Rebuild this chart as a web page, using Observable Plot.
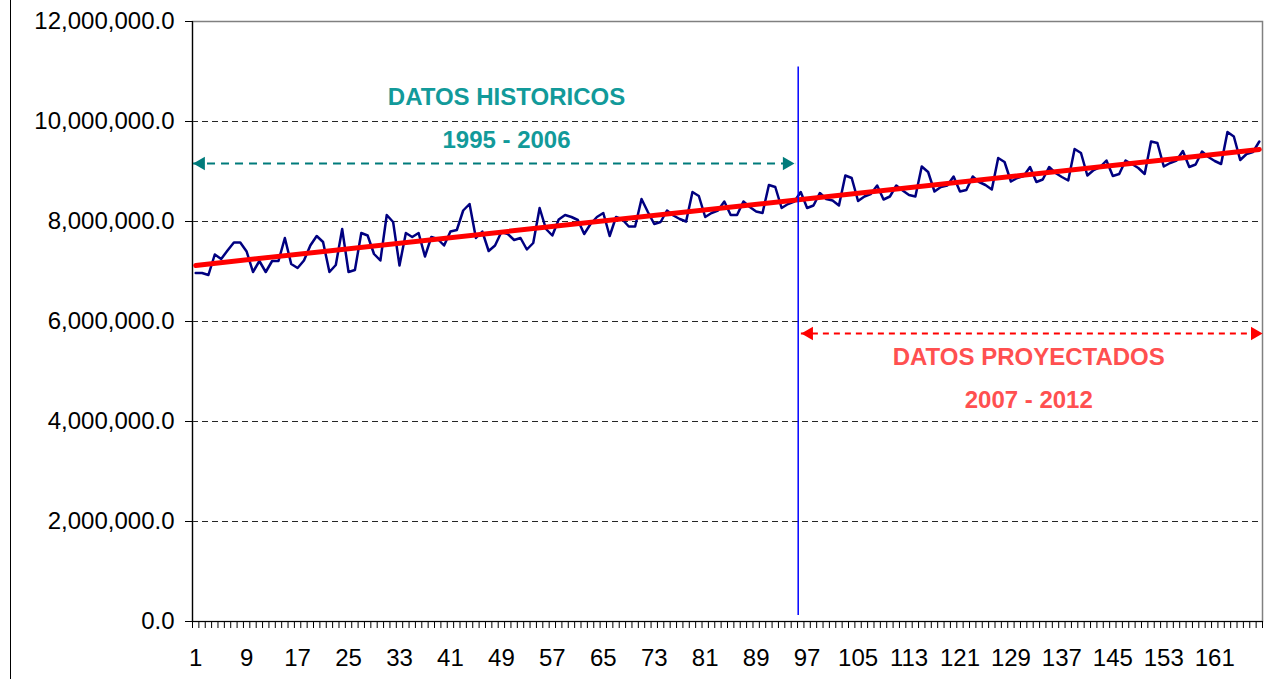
<!DOCTYPE html>
<html>
<head>
<meta charset="utf-8">
<script src="https://cdn.jsdelivr.net/npm/d3@7"></script>
<script src="https://cdn.jsdelivr.net/npm/@observablehq/plot@0.6"></script>
<style>
  html, body { margin: 0; padding: 0; background: #fff; }
  #wrap { position: relative; width: 1282px; height: 679px; overflow: hidden; }
  #edge { position: absolute; left: 10px; top: 0; width: 1px; height: 679px; background: #000; }
</style>
</head>
<body>
<div id="wrap"><div id="edge"></div></div>
<script>
// Monthly values (in millions), periods 1..168
const valuesMillions = [
  6.97, 6.97, 6.93, 7.34, 7.25, 7.42, 7.58, 7.58, 7.40, 6.99, 7.21, 6.99,
  7.21, 7.21, 7.67, 7.15, 7.07, 7.22, 7.52, 7.71, 7.59, 6.99, 7.13, 7.85,
  6.99, 7.03, 7.77, 7.72, 7.35, 7.22, 8.13, 7.99, 7.12, 7.77, 7.69, 7.77,
  7.30, 7.69, 7.65, 7.52, 7.80, 7.83, 8.22, 8.35, 7.67, 7.80, 7.41, 7.52,
  7.79, 7.75, 7.63, 7.67, 7.44, 7.57, 8.27, 7.85, 7.72, 8.04, 8.13, 8.09,
  8.03, 7.75, 7.95, 8.09, 8.17, 7.71, 8.09, 8.04, 7.90, 7.90, 8.45, 8.19,
  7.95, 7.99, 8.22, 8.12, 8.05, 8.00, 8.59, 8.51, 8.09, 8.17, 8.22, 8.40,
  8.13, 8.13, 8.40, 8.29, 8.20, 8.17, 8.73, 8.69, 8.27, 8.35, 8.40, 8.59,
  8.27, 8.32, 8.57, 8.45, 8.42, 8.32, 8.92, 8.87, 8.41, 8.50, 8.55, 8.72,
  8.44, 8.50, 8.72, 8.62, 8.53, 8.50, 9.10, 8.99, 8.60, 8.69, 8.72, 8.90,
  8.60, 8.63, 8.90, 8.79, 8.73, 8.64, 9.27, 9.19, 8.80, 8.87, 8.91, 9.09,
  8.79, 8.84, 9.09, 8.97, 8.89, 8.82, 9.45, 9.37, 8.92, 9.03, 9.09, 9.22,
  8.91, 8.95, 9.22, 9.15, 9.07, 8.95, 9.60, 9.57, 9.10, 9.17, 9.22, 9.41,
  9.09, 9.14, 9.40, 9.29, 9.21, 9.15, 9.79, 9.70, 9.23, 9.35, 9.39, 9.60
];
const periods = valuesMillions.map((_, i) => i + 1);
const xTickLabels = [1, 9, 17, 25, 33, 41, 49, 57, 65, 73, 81, 89, 97, 105, 113, 121, 129, 137, 145, 153, 161];
const yTicks = [0, 2000000, 4000000, 6000000, 8000000, 10000000, 12000000];
const gridValues = [2000000, 4000000, 6000000, 8000000, 10000000];

// Annotations (data units)
const splitPeriod = 95.6;
const splitRange = [120000, 11090000];
const histArrow = {y: 9160000, x1: 0.66, x2: 95.2, head1: 1.83, head2: 93.8};
const projArrow = {y: 5760000, x1: 96.1, x2: 168.5, head1: 97.3, head2: 167.3};
const histLabels = [
  {x: 49.8, y: 10480000, text: "DATOS HISTORICOS"},
  {x: 49.8, y: 9620000, text: "1995 - 2006"}
];
const projLabels = [
  {x: 131.8, y: 5280000, text: "DATOS PROYECTADOS"},
  {x: 131.8, y: 4420000, text: "2007 - 2012"}
];

const data = periods.map((p, i) => ({period: p, value: valuesMillions[i] * 1e6}));
const boundaries = d3.range(0, 169).map(d => d + 0.5);

const teal = "#007b7b";
const red = "#ff0000";

const chart = Plot.plot({
  width: 1282,
  height: 679,
  marginLeft: 192,
  marginRight: 20,
  marginTop: 21,
  marginBottom: 58,
  style: {fontFamily: "'Liberation Sans', Arial, sans-serif", fontSize: "24px", background: "transparent", color: "#000", overflow: "visible"},
  x: {domain: [0.5, 168.5], axis: null},
  y: {domain: [0, 12000000], axis: null},
  marks: [
    Plot.ruleY(gridValues, {stroke: "#000", strokeOpacity: 0.85, strokeDasharray: "6,4"}),
    Plot.frame({stroke: "#808080", strokeWidth: 1.5}),
    Plot.axisY(yTicks, {tickSize: 7, tickPadding: 11, tickFormat: d3.format(",.1f"), fontSize: 24, stroke: "#000"}),
    Plot.axisX(boundaries, {tickSize: 7, tickFormat: () => "", stroke: "#000"}),
    Plot.axisX(xTickLabels, {tickSize: 0, tickPadding: 27, fontSize: 24}),
    Plot.ruleY([0], {stroke: "#000", strokeWidth: 1.2}),
    Plot.ruleX([0.5], {stroke: "#000", strokeWidth: 1.2}),
    Plot.line(data, {x: "period", y: "value", stroke: "#000080", strokeWidth: 2.5}),
    Plot.linearRegressionY(data, {x: "period", y: "value", stroke: red, strokeWidth: 5, ci: 0}),
    Plot.ruleX([splitPeriod], {y1: splitRange[0], y2: splitRange[1], stroke: "#0000ff", strokeWidth: 1.5}),
    // historic arrow
    Plot.ruleY([histArrow], {y: "y", x1: "x1", x2: "x2", stroke: teal, strokeWidth: 2, strokeDasharray: "8,6"}),
    Plot.dot([histArrow], {x: "head2", y: "y", symbol: "triangle", r: 5, fill: teal, stroke: null, rotate: 90}),
    Plot.dot([histArrow], {x: "head1", y: "y", symbol: "triangle", r: 5, fill: teal, stroke: null, rotate: -90}),
    // projected arrow
    Plot.ruleY([projArrow], {y: "y", x1: "x1", x2: "x2", stroke: red, strokeWidth: 2, strokeDasharray: "6,5"}),
    Plot.dot([projArrow], {x: "head2", y: "y", symbol: "triangle", r: 5, fill: red, stroke: null, rotate: 90}),
    Plot.dot([projArrow], {x: "head1", y: "y", symbol: "triangle", r: 5, fill: red, stroke: null, rotate: -90}),
    Plot.text(histLabels, {x: "x", y: "y", text: "text", fill: "#129a9a", fontWeight: "bold", fontSize: 24}),
    Plot.text(projLabels, {x: "x", y: "y", text: "text", fill: "#ff5050", fontWeight: "bold", fontSize: 24})
  ]
});
document.getElementById("wrap").appendChild(chart);
chart.style.position = "absolute";
chart.style.left = "0";
chart.style.top = "0";
</script>
</body>
</html>
